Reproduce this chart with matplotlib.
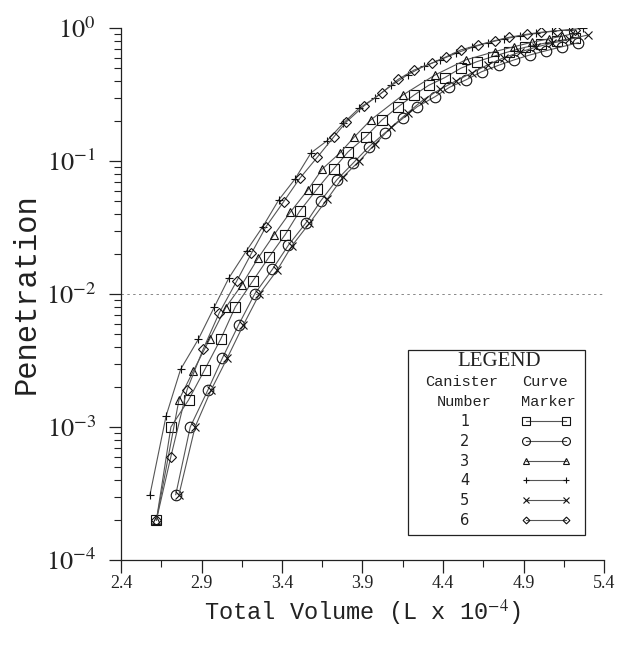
import matplotlib
matplotlib.use("Agg")
import matplotlib.pyplot as plt
from matplotlib.ticker import FixedLocator, FixedFormatter, LogLocator, NullFormatter
from matplotlib.patches import Rectangle

# ---------------- data ----------------
canister_numbers = ["1", "2", "3", "4", "5", "6"]

x_square = [2.62, 2.71, 2.82, 2.92, 3.02, 3.11, 3.22, 3.32, 3.42, 3.51, 3.62, 3.72, 3.81,
            3.92, 4.02, 4.12, 4.22, 4.31, 4.41, 4.51, 4.61, 4.71, 4.81, 4.91, 5.01, 5.11, 5.22]
y_square = [2.0e-4, 1.0e-3, 1.6e-3, 2.7e-3, 4.6e-3, 8.0e-3, 1.26e-2, 1.9e-2, 2.8e-2, 4.2e-2,
            6.2e-2, 8.7e-2, 0.117, 0.152, 0.203, 0.255, 0.313, 0.37, 0.423, 0.498, 0.558,
            0.61, 0.664, 0.716, 0.76, 0.80, 0.84]

x_circle = [2.74, 2.83, 2.94, 3.03, 3.13, 3.23, 3.34, 3.44, 3.55, 3.64, 3.74, 3.84, 3.94,
            4.04, 4.15, 4.24, 4.35, 4.44, 4.54, 4.64, 4.75, 4.84, 4.94, 5.04, 5.14, 5.24]
y_circle = [3.1e-4, 1.0e-3, 1.9e-3, 3.3e-3, 5.85e-3, 1.0e-2, 1.53e-2, 2.33e-2, 3.44e-2,
            5.0e-2, 7.2e-2, 9.6e-2, 0.128, 0.163, 0.209, 0.256, 0.304, 0.358, 0.406,
            0.469, 0.527, 0.575, 0.627, 0.675, 0.723, 0.775]

x_triangle = [2.62, 2.76, 2.85, 2.95, 3.05, 3.15, 3.25, 3.35, 3.45, 3.56, 3.65, 3.76, 3.85,
              3.95, 4.15, 4.35, 4.54, 4.72, 4.84, 4.95, 5.06, 5.14, 5.22]
y_triangle = [2.0e-4, 1.6e-3, 2.65e-3, 4.56e-3, 7.9e-3, 1.17e-2, 1.85e-2, 2.78e-2, 4.1e-2,
              6.05e-2, 8.7e-2, 0.115, 0.152, 0.203, 0.313, 0.443, 0.575, 0.664, 0.723,
              0.78, 0.83, 0.87, 0.91]

x_plus = [2.58, 2.68, 2.77, 2.88, 2.98, 3.07, 3.18, 3.28, 3.38, 3.48, 3.58, 3.68, 3.78, 3.88,
          3.98, 4.08, 4.18, 4.28, 4.38, 4.48, 4.58, 4.68, 4.78, 4.88, 4.98, 5.08, 5.18, 5.27]
y_plus = [3.1e-4, 1.21e-3, 2.71e-3, 4.56e-3, 8.0e-3, 1.32e-2, 2.12e-2, 3.2e-2, 5.1e-2,
          7.3e-2, 0.115, 0.142, 0.192, 0.25, 0.30, 0.37, 0.445, 0.515, 0.575, 0.645,
          0.715, 0.775, 0.828, 0.872, 0.912, 0.945, 0.972, 0.995]

x_cross = [2.76, 2.86, 2.96, 3.06, 3.16, 3.26, 3.37, 3.46, 3.57, 3.68, 3.78, 3.88, 3.98,
           4.08, 4.18, 4.28, 4.38, 4.48, 4.58, 4.68, 4.78, 4.88, 4.98, 5.08, 5.18, 5.30]
y_cross = [3.1e-4, 1.0e-3, 1.9e-3, 3.3e-3, 5.85e-3, 1.0e-2, 1.51e-2, 2.29e-2, 3.4e-2,
           5.15e-2, 7.6e-2, 0.10, 0.135, 0.18, 0.23, 0.29, 0.345, 0.40, 0.46, 0.53, 0.60,
           0.66, 0.72, 0.77, 0.82, 0.886]

x_diamond = [2.62, 2.71, 2.81, 2.91, 3.01, 3.12, 3.21, 3.30, 3.41, 3.51, 3.62, 3.72, 3.80,
             3.91, 4.02, 4.12, 4.22, 4.33, 4.42, 4.51, 4.62, 4.72, 4.81, 4.92, 5.01, 5.11, 5.22]
y_diamond = [2.0e-4, 6.0e-4, 1.9e-3, 3.84e-3, 7.2e-3, 1.26e-2, 2.02e-2, 3.2e-2, 4.94e-2,
             7.4e-2, 0.107, 0.151, 0.197, 0.26, 0.326, 0.41, 0.483, 0.543, 0.608, 0.684,
             0.745, 0.803, 0.851, 0.897, 0.929, 0.955, 0.966]

x_ticks = [2.4, 2.9, 3.4, 3.9, 4.4, 4.9, 5.4]
x_tick_labels = ["2.4", "2.9", "3.4", "3.9", "4.4", "4.9", "5.4"]
y_ticks = [1e-4, 1e-3, 1e-2, 1e-1, 1e0]
y_tick_labels = [r"$10^{-4}$", r"$10^{-3}$", r"$10^{-2}$", r"$10^{-1}$", r"$10^{0}$"]
reference_level = 1e-2

# ---------------- figure ----------------
plt.rcParams["mathtext.fontset"] = "stix"
W, H = 624, 647
fig = plt.figure(figsize=(W / 100, H / 100), dpi=100)
ax_l, ax_r, ax_t, ax_b = 121, 604, 28, 560
ax = fig.add_axes([ax_l / W, (H - ax_b) / H, (ax_r - ax_l) / W, (ax_b - ax_t) / H])

series = [
    (x_square, y_square, "s", 7.0),
    (x_circle, y_circle, "o", 7.6),
    (x_triangle, y_triangle, "^", 6.0),
    (x_plus, y_plus, "+", 6.0),
    (x_cross, y_cross, "x", 5.5),
    (x_diamond, y_diamond, "D", 4.6),
]
handles = []
for xs, ys, mk, ms in series:
    (ln,) = ax.plot(xs, ys, color="#555555", lw=0.8, marker=mk, ms=ms,
                    mfc="none", mec="#111111", mew=0.8)
    handles.append(ln)

ax.axhline(reference_level, color="#888888", lw=0.7, ls=(0, (2.5, 3.5)))

ax.set_yscale("log")
ax.set_xlim(2.4, 5.4)
ax.set_ylim(1e-4, 1.0)

ax.xaxis.set_major_locator(FixedLocator(x_ticks))
ax.xaxis.set_major_formatter(FixedFormatter(x_tick_labels))
ax.xaxis.set_minor_locator(FixedLocator([(a + b) / 2 for a, b in zip(x_ticks[:-1], x_ticks[1:])]))
ax.yaxis.set_major_locator(FixedLocator(y_ticks))
ax.yaxis.set_major_formatter(FixedFormatter(y_tick_labels))
ax.yaxis.set_minor_locator(LogLocator(base=10, subs=range(2, 10), numticks=20))
ax.yaxis.set_minor_formatter(NullFormatter())

for s in ("top", "right"):
    ax.spines[s].set_visible(False)
for s in ("left", "bottom"):
    ax.spines[s].set_linewidth(0.9)
    ax.spines[s].set_color("#222222")

ax.tick_params(axis="both", which="major", direction="out", length=9, width=0.9, color="#222222")
ax.tick_params(axis="both", which="minor", direction="out", length=5, width=0.8, color="#222222")
ax.tick_params(axis="x", which="major", labelsize=13, pad=2)
ax.tick_params(axis="y", which="major", labelsize=19, pad=9)
for lab in ax.get_xticklabels():
    lab.set_family("Liberation Serif")
    lab.set_color("#222222")
for lab in ax.get_yticklabels():
    lab.set_color("#222222")

ax.set_ylabel("Penetration", family="Liberation Mono", fontsize=22, color="#222222", labelpad=3)
ax.set_xlabel(r"Total Volume (L x 10$^{-4}$)", family="Liberation Mono", fontsize=17,
              color="#222222", labelpad=4)

# ---------------- legend ----------------
def axf(px, py):
    return ((px - ax_l) / (ax_r - ax_l), (ax_b - py) / (ax_b - ax_t))

bx0, by0 = axf(408, 535)
bx1, by1 = axf(585, 350)
ax.add_patch(Rectangle((bx0, by0), bx1 - bx0, by1 - by0, transform=ax.transAxes,
                       fill=False, lw=0.9, edgecolor="#222222", clip_on=False))
tx, ty = axf(499, 362)
ax.text(tx, ty, "LEGEND", transform=ax.transAxes, ha="center", va="center",
        family="Liberation Serif", fontsize=15, color="#222222")
for label, px, py in [("Canister", 462, 382), ("Curve", 545, 382),
                      ("Number", 464, 402), ("Marker", 548, 402)]:
    tx, ty = axf(px, py)
    ax.text(tx, ty, label, transform=ax.transAxes, ha="center", va="center",
            family="Liberation Mono", fontsize=11, color="#222222")

lx, ly = axf(460, 414)
leg = ax.legend(handles, canister_numbers, loc="upper left", bbox_to_anchor=(lx, ly),
                bbox_transform=ax.transAxes, frameon=False, markerfirst=False, numpoints=2,
                handlelength=3.3, handletextpad=3.6, labelspacing=0.33, borderpad=0,
                borderaxespad=0, markerscale=0.75, prop={"family": "DejaVu Sans", "size": 10.5})
for t in leg.get_texts():
    t.set_color("#222222")

fig.savefig("out.png", dpi=100)
